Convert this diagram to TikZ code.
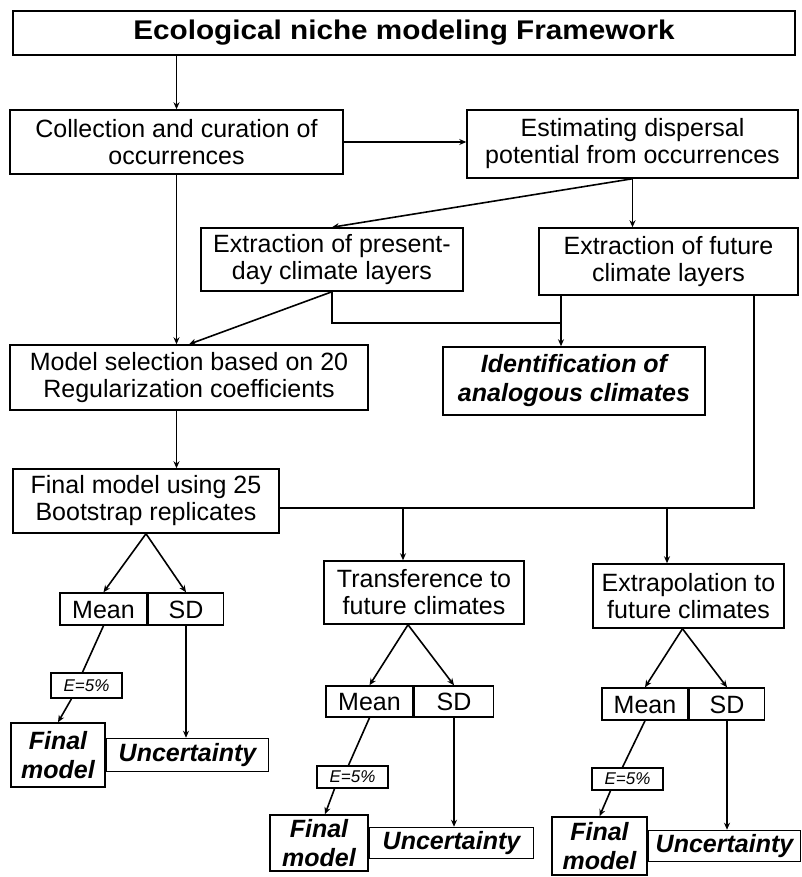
\documentclass[tikz,border=0pt]{standalone}
\usepackage{fontspec}
\setmainfont{Liberation Sans}
\newfontfamily\titlefont{Liberation Sans}[FakeStretch=1.1]
\usetikzlibrary{arrows.meta}
\tikzstyle{arrow} = [line width=1.6pt,->,>={Stealth[length=7pt,width=6pt]}]
\tikzstyle{link} = [line width=1.6pt]
\tikzstyle{rec} = [rectangle, draw=black, line width=1.5pt, inner sep=0pt, text centered, align=center, font=\fontsize{25}{27}\selectfont]
\tikzstyle{recB} = [rec, font=\fontsize{25}{29}\selectfont\bfseries\itshape]
\tikzstyle{recS} = [rec, font=\fontsize{17}{19}\selectfont\itshape]
\tikzstyle{cell} = [rec, text height=18pt, text depth=0pt]

\begin{document}
\begin{tikzpicture}[x=1pt, y=-1pt]
		\useasboundingbox (0,0) rectangle (801,877);
		\node (title) [rec, minimum width=782pt, minimum height=44pt, font=\fontsize{27}{29}\selectfont\titlefont\bfseries] at (404,33) {Ecological niche modeling Framework};
		\node (collect) [rec, minimum width=333pt, minimum height=64pt] at (176.5,142) {Collection and curation of\\occurrences};
		\node (disperse) [rec, minimum width=331pt, minimum height=68pt] at (632.5,144) {Estimating dispersal\\potential from occurrences};
		\node (present) [rec, minimum width=262pt, minimum height=63pt] at (332,259.5) {Extraction of present-\\day climate layers};
		\node (future) [rec, minimum width=259pt, minimum height=67pt] at (668.5,261.5) {Extraction of future\\climate layers};
		\node (modelsel) [rec, minimum width=358pt, minimum height=65pt] at (189,377.5) {Model selection based on 20\\Regularization coefficients};
		\node (analog) [recB, minimum width=262pt, minimum height=68pt] at (574,381) {Identification of\\analogous climates};
		\node (finalfit) [rec, minimum width=266pt, minimum height=64pt] at (146,501) {Final model using 25\\Bootstrap replicates};
		\node (transfer) [rec, minimum width=200pt, minimum height=63pt] at (424,592.5) {Transference to\\future climates};
		\node (extrapol) [rec, minimum width=191pt, minimum height=64pt] at (688.5,596) {Extrapolation to\\future climates};
		% present-day output
		\node (meanA) [cell, minimum width=87pt, minimum height=32pt] at (103.5,609) {Mean};
		\node (sdA) [cell, minimum width=75pt, minimum height=32pt, anchor=west] at (meanA.east) {SD};
		\node (eA) [recS, minimum width=71pt, minimum height=25pt] at (86.5,685.5) {E=5\%};
		\node (finA) [recB, minimum width=94pt, minimum height=64pt] at (58,755) {Final\\model};
		\node (uncA) [recB, minimum width=162pt, minimum height=33pt, anchor=west] at (finA.east) {Uncertainty};
		% transference output
		\node (meanB) [cell, minimum width=87pt, minimum height=31pt] at (369.5,701.5) {Mean};
		\node (sdB) [cell, minimum width=79pt, minimum height=31pt, anchor=west] at (meanB.east) {SD};
		\node (eB) [recS, minimum width=71pt, minimum height=22pt] at (352.5,777) {E=5\%};
		\node (finB) [recB, minimum width=98pt, minimum height=56pt] at (319,843) {Final\\model};
		\node (uncB) [recB, minimum width=164pt, minimum height=31pt, anchor=west] at (finB.east) {Uncertainty};
		% extrapolation output
		\node (meanC) [cell, minimum width=86pt, minimum height=32pt] at (645,704) {Mean};
		\node (sdC) [cell, minimum width=75pt, minimum height=32pt, anchor=west] at (meanC.east) {SD};
		\node (eC) [recS, minimum width=71pt, minimum height=22pt] at (627.5,779) {E=5\%};
		\node (finC) [recB, minimum width=95pt, minimum height=58pt] at (599.5,846) {Final\\model};
		\node (uncC) [recB, minimum width=152pt, minimum height=31pt, anchor=west] at (finC.east) {Uncertainty};
		\coordinate (join) at (561,323);
		\coordinate (bus) at (754,508);
		\coordinate (tapB) at (403,508);
		\coordinate (tapC) at (667,508);
		\draw [arrow] (collect.north |- title.south) -- (collect.north);
		\draw [arrow] (collect.east) -- (disperse.west |- collect.east);
		\draw [arrow] (disperse.south) -- (disperse.south |- future.north);
		\draw [arrow] (disperse.south) -- (present.north);
		\draw [arrow] (collect.south) -- (collect.south |- modelsel.north);
		\draw [arrow] (present.south) -- (modelsel.north);
		\draw [link] (present.south) |- (join);
		\draw [arrow] (future.south -| join) -- (analog.north -| join);
		\draw [link, line width=2pt] (future.south -| bus) -- (bus) -- (finalfit.east |- bus);
		\draw [arrow] (tapB) -- (tapB |- transfer.north);
		\draw [arrow] (tapC) -- (tapC |- extrapol.north);
		\draw [arrow] (collect.south |- modelsel.south) -- (collect.south |- finalfit.north);
		\draw [arrow] (finalfit.south) -- (meanA.north);
		\draw [arrow] (finalfit.south) -- (sdA.north);
		\draw [link] (meanA.south) -- ([xshift=-4pt]eA.north);
		\draw [arrow] ([xshift=-15pt]eA.south) -- (finA.north);
		\draw [arrow] (sdA.south) -- (sdA.south |- uncA.north);
		\draw [arrow] ([xshift=-16pt]transfer.south) -- (meanB.north);
		\draw [arrow] ([xshift=-16pt]transfer.south) -- (sdB.north);
		\draw [link] (meanB.south) -- ([xshift=-4pt]eB.north);
		\draw [arrow] ([xshift=-18pt]eB.south) -- ([xshift=6pt]finB.north);
		\draw [arrow] (sdB.south) -- (sdB.south |- uncB.north);
		\draw [arrow] ([xshift=-6pt]extrapol.south) -- (meanC.north);
		\draw [arrow] ([xshift=-6pt]extrapol.south) -- (sdC.north);
		\draw [link] (meanC.south) -- ([xshift=-5pt]eC.north);
		\draw [arrow] ([xshift=-17pt]eC.south) -- (finC.north);
		\draw [arrow] (sdC.south) -- (sdC.south |- uncC.north);
	\end{tikzpicture}
\end{document}
